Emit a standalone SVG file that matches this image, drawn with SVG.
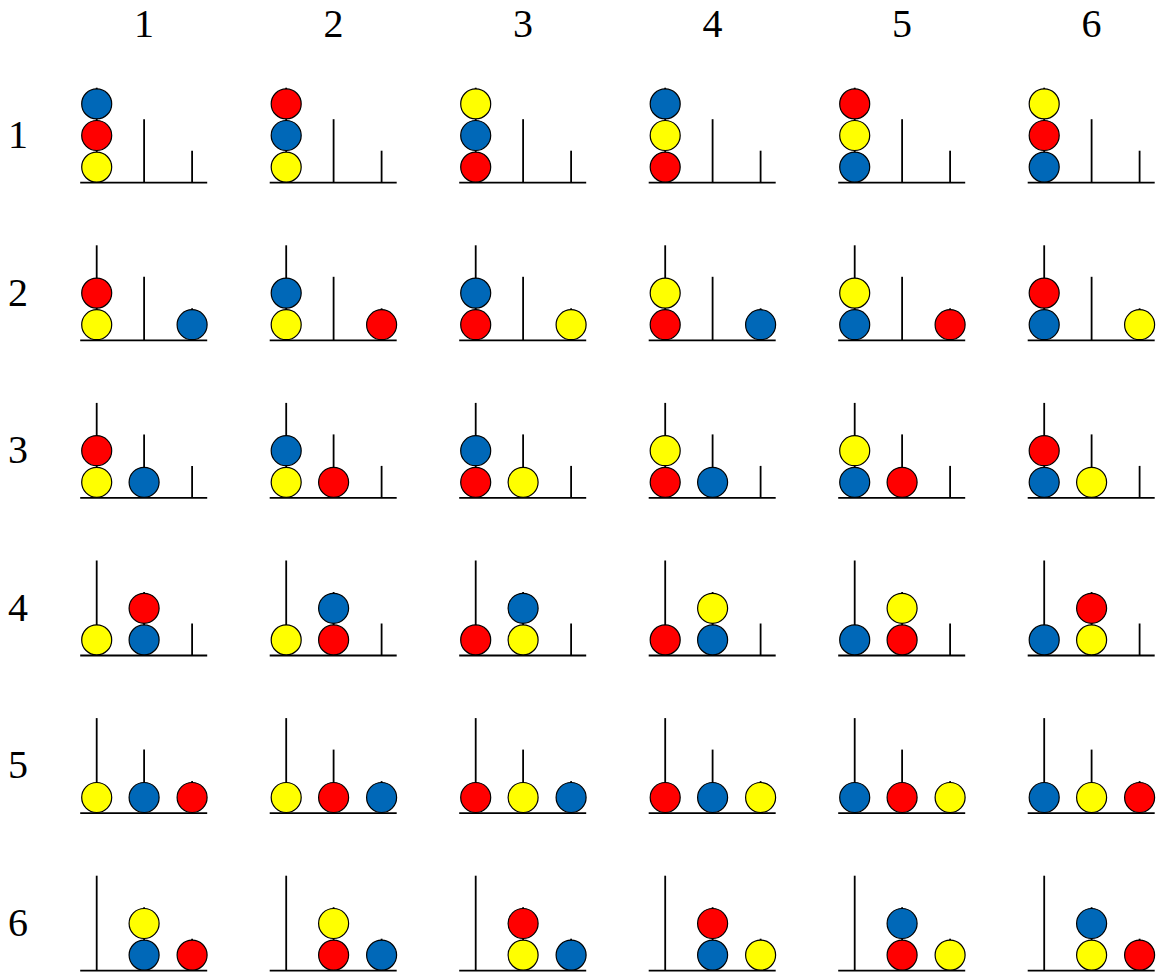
<svg xmlns="http://www.w3.org/2000/svg" xmlns:xlink="http://www.w3.org/1999/xlink" width="1157" height="975" viewBox="0 0 1157 975">
<style>
.lbl{font-size:40px;fill:#000;text-anchor:middle}
.ln{stroke:#000;stroke-width:1.8;fill:none}
.b{stroke:#000;stroke-width:1.2}
.Y{fill:#ffff00}.R{fill:#ff0000}.B{fill:#0068b8}
</style>
<defs>
<g id="board">
<line class="ln" x1="-16.5" y1="0" x2="110.5" y2="0"/>
<line class="ln" x1="0" y1="0" x2="0" y2="-95"/>
<line class="ln" x1="47.4" y1="0" x2="47.4" y2="-63.5"/>
<line class="ln" x1="95.4" y1="0" x2="95.4" y2="-32"/>
</g>
</defs>
<rect width="1157" height="975" fill="#fff"/>
<g id="headers" font-family="'Liberation Serif', 'Times New Roman', serif">
<text class="lbl" x="144" y="37">1</text>
<text class="lbl" x="333.5" y="37">2</text>
<text class="lbl" x="523" y="37">3</text>
<text class="lbl" x="712.5" y="37">4</text>
<text class="lbl" x="902" y="37">5</text>
<text class="lbl" x="1091.5" y="37">6</text>
<text class="lbl" x="18" y="148">1</text>
<text class="lbl" x="18" y="305.5">2</text>
<text class="lbl" x="18" y="463">3</text>
<text class="lbl" x="18" y="620.5">4</text>
<text class="lbl" x="18" y="778">5</text>
<text class="lbl" x="18" y="935.5">6</text>
</g>
<!-- Row 1 -->
<g id="r1c1" transform="translate(96.7,182.7)"><use xlink:href="#board"/><circle class="b Y" cx="0" cy="-15.6" r="15"/><circle class="b R" cx="0" cy="-47.2" r="15"/><circle class="b B" cx="0" cy="-78.8" r="15"/></g>
<g id="r1c2" transform="translate(286.2,182.7)"><use xlink:href="#board"/><circle class="b Y" cx="0" cy="-15.6" r="15"/><circle class="b B" cx="0" cy="-47.2" r="15"/><circle class="b R" cx="0" cy="-78.8" r="15"/></g>
<g id="r1c3" transform="translate(475.7,182.7)"><use xlink:href="#board"/><circle class="b R" cx="0" cy="-15.6" r="15"/><circle class="b B" cx="0" cy="-47.2" r="15"/><circle class="b Y" cx="0" cy="-78.8" r="15"/></g>
<g id="r1c4" transform="translate(665.2,182.7)"><use xlink:href="#board"/><circle class="b R" cx="0" cy="-15.6" r="15"/><circle class="b Y" cx="0" cy="-47.2" r="15"/><circle class="b B" cx="0" cy="-78.8" r="15"/></g>
<g id="r1c5" transform="translate(854.7,182.7)"><use xlink:href="#board"/><circle class="b B" cx="0" cy="-15.6" r="15"/><circle class="b Y" cx="0" cy="-47.2" r="15"/><circle class="b R" cx="0" cy="-78.8" r="15"/></g>
<g id="r1c6" transform="translate(1044.2,182.7)"><use xlink:href="#board"/><circle class="b B" cx="0" cy="-15.6" r="15"/><circle class="b R" cx="0" cy="-47.2" r="15"/><circle class="b Y" cx="0" cy="-78.8" r="15"/></g>
<!-- Row 2 -->
<g id="r2c1" transform="translate(96.7,340.3)"><use xlink:href="#board"/><circle class="b Y" cx="0" cy="-15.6" r="15"/><circle class="b R" cx="0" cy="-47.2" r="15"/><circle class="b B" cx="95.4" cy="-15.6" r="15"/></g>
<g id="r2c2" transform="translate(286.2,340.3)"><use xlink:href="#board"/><circle class="b Y" cx="0" cy="-15.6" r="15"/><circle class="b B" cx="0" cy="-47.2" r="15"/><circle class="b R" cx="95.4" cy="-15.6" r="15"/></g>
<g id="r2c3" transform="translate(475.7,340.3)"><use xlink:href="#board"/><circle class="b R" cx="0" cy="-15.6" r="15"/><circle class="b B" cx="0" cy="-47.2" r="15"/><circle class="b Y" cx="95.4" cy="-15.6" r="15"/></g>
<g id="r2c4" transform="translate(665.2,340.3)"><use xlink:href="#board"/><circle class="b R" cx="0" cy="-15.6" r="15"/><circle class="b Y" cx="0" cy="-47.2" r="15"/><circle class="b B" cx="95.4" cy="-15.6" r="15"/></g>
<g id="r2c5" transform="translate(854.7,340.3)"><use xlink:href="#board"/><circle class="b B" cx="0" cy="-15.6" r="15"/><circle class="b Y" cx="0" cy="-47.2" r="15"/><circle class="b R" cx="95.4" cy="-15.6" r="15"/></g>
<g id="r2c6" transform="translate(1044.2,340.3)"><use xlink:href="#board"/><circle class="b B" cx="0" cy="-15.6" r="15"/><circle class="b R" cx="0" cy="-47.2" r="15"/><circle class="b Y" cx="95.4" cy="-15.6" r="15"/></g>
<!-- Row 3 -->
<g id="r3c1" transform="translate(96.7,497.9)"><use xlink:href="#board"/><circle class="b Y" cx="0" cy="-15.6" r="15"/><circle class="b R" cx="0" cy="-47.2" r="15"/><circle class="b B" cx="47.4" cy="-15.6" r="15"/></g>
<g id="r3c2" transform="translate(286.2,497.9)"><use xlink:href="#board"/><circle class="b Y" cx="0" cy="-15.6" r="15"/><circle class="b B" cx="0" cy="-47.2" r="15"/><circle class="b R" cx="47.4" cy="-15.6" r="15"/></g>
<g id="r3c3" transform="translate(475.7,497.9)"><use xlink:href="#board"/><circle class="b R" cx="0" cy="-15.6" r="15"/><circle class="b B" cx="0" cy="-47.2" r="15"/><circle class="b Y" cx="47.4" cy="-15.6" r="15"/></g>
<g id="r3c4" transform="translate(665.2,497.9)"><use xlink:href="#board"/><circle class="b R" cx="0" cy="-15.6" r="15"/><circle class="b Y" cx="0" cy="-47.2" r="15"/><circle class="b B" cx="47.4" cy="-15.6" r="15"/></g>
<g id="r3c5" transform="translate(854.7,497.9)"><use xlink:href="#board"/><circle class="b B" cx="0" cy="-15.6" r="15"/><circle class="b Y" cx="0" cy="-47.2" r="15"/><circle class="b R" cx="47.4" cy="-15.6" r="15"/></g>
<g id="r3c6" transform="translate(1044.2,497.9)"><use xlink:href="#board"/><circle class="b B" cx="0" cy="-15.6" r="15"/><circle class="b R" cx="0" cy="-47.2" r="15"/><circle class="b Y" cx="47.4" cy="-15.6" r="15"/></g>
<!-- Row 4 -->
<g id="r4c1" transform="translate(96.7,655.5)"><use xlink:href="#board"/><circle class="b Y" cx="0" cy="-15.6" r="15"/><circle class="b B" cx="47.4" cy="-15.6" r="15"/><circle class="b R" cx="47.4" cy="-47.2" r="15"/></g>
<g id="r4c2" transform="translate(286.2,655.5)"><use xlink:href="#board"/><circle class="b Y" cx="0" cy="-15.6" r="15"/><circle class="b R" cx="47.4" cy="-15.6" r="15"/><circle class="b B" cx="47.4" cy="-47.2" r="15"/></g>
<g id="r4c3" transform="translate(475.7,655.5)"><use xlink:href="#board"/><circle class="b R" cx="0" cy="-15.6" r="15"/><circle class="b Y" cx="47.4" cy="-15.6" r="15"/><circle class="b B" cx="47.4" cy="-47.2" r="15"/></g>
<g id="r4c4" transform="translate(665.2,655.5)"><use xlink:href="#board"/><circle class="b R" cx="0" cy="-15.6" r="15"/><circle class="b B" cx="47.4" cy="-15.6" r="15"/><circle class="b Y" cx="47.4" cy="-47.2" r="15"/></g>
<g id="r4c5" transform="translate(854.7,655.5)"><use xlink:href="#board"/><circle class="b B" cx="0" cy="-15.6" r="15"/><circle class="b R" cx="47.4" cy="-15.6" r="15"/><circle class="b Y" cx="47.4" cy="-47.2" r="15"/></g>
<g id="r4c6" transform="translate(1044.2,655.5)"><use xlink:href="#board"/><circle class="b B" cx="0" cy="-15.6" r="15"/><circle class="b Y" cx="47.4" cy="-15.6" r="15"/><circle class="b R" cx="47.4" cy="-47.2" r="15"/></g>
<!-- Row 5 -->
<g id="r5c1" transform="translate(96.7,813.1)"><use xlink:href="#board"/><circle class="b Y" cx="0" cy="-15.6" r="15"/><circle class="b B" cx="47.4" cy="-15.6" r="15"/><circle class="b R" cx="95.4" cy="-15.6" r="15"/></g>
<g id="r5c2" transform="translate(286.2,813.1)"><use xlink:href="#board"/><circle class="b Y" cx="0" cy="-15.6" r="15"/><circle class="b R" cx="47.4" cy="-15.6" r="15"/><circle class="b B" cx="95.4" cy="-15.6" r="15"/></g>
<g id="r5c3" transform="translate(475.7,813.1)"><use xlink:href="#board"/><circle class="b R" cx="0" cy="-15.6" r="15"/><circle class="b Y" cx="47.4" cy="-15.6" r="15"/><circle class="b B" cx="95.4" cy="-15.6" r="15"/></g>
<g id="r5c4" transform="translate(665.2,813.1)"><use xlink:href="#board"/><circle class="b R" cx="0" cy="-15.6" r="15"/><circle class="b B" cx="47.4" cy="-15.6" r="15"/><circle class="b Y" cx="95.4" cy="-15.6" r="15"/></g>
<g id="r5c5" transform="translate(854.7,813.1)"><use xlink:href="#board"/><circle class="b B" cx="0" cy="-15.6" r="15"/><circle class="b R" cx="47.4" cy="-15.6" r="15"/><circle class="b Y" cx="95.4" cy="-15.6" r="15"/></g>
<g id="r5c6" transform="translate(1044.2,813.1)"><use xlink:href="#board"/><circle class="b B" cx="0" cy="-15.6" r="15"/><circle class="b Y" cx="47.4" cy="-15.6" r="15"/><circle class="b R" cx="95.4" cy="-15.6" r="15"/></g>
<!-- Row 6 -->
<g id="r6c1" transform="translate(96.7,970.7)"><use xlink:href="#board"/><circle class="b B" cx="47.4" cy="-15.6" r="15"/><circle class="b Y" cx="47.4" cy="-47.2" r="15"/><circle class="b R" cx="95.4" cy="-15.6" r="15"/></g>
<g id="r6c2" transform="translate(286.2,970.7)"><use xlink:href="#board"/><circle class="b R" cx="47.4" cy="-15.6" r="15"/><circle class="b Y" cx="47.4" cy="-47.2" r="15"/><circle class="b B" cx="95.4" cy="-15.6" r="15"/></g>
<g id="r6c3" transform="translate(475.7,970.7)"><use xlink:href="#board"/><circle class="b Y" cx="47.4" cy="-15.6" r="15"/><circle class="b R" cx="47.4" cy="-47.2" r="15"/><circle class="b B" cx="95.4" cy="-15.6" r="15"/></g>
<g id="r6c4" transform="translate(665.2,970.7)"><use xlink:href="#board"/><circle class="b B" cx="47.4" cy="-15.6" r="15"/><circle class="b R" cx="47.4" cy="-47.2" r="15"/><circle class="b Y" cx="95.4" cy="-15.6" r="15"/></g>
<g id="r6c5" transform="translate(854.7,970.7)"><use xlink:href="#board"/><circle class="b R" cx="47.4" cy="-15.6" r="15"/><circle class="b B" cx="47.4" cy="-47.2" r="15"/><circle class="b Y" cx="95.4" cy="-15.6" r="15"/></g>
<g id="r6c6" transform="translate(1044.2,970.7)"><use xlink:href="#board"/><circle class="b Y" cx="47.4" cy="-15.6" r="15"/><circle class="b B" cx="47.4" cy="-47.2" r="15"/><circle class="b R" cx="95.4" cy="-15.6" r="15"/></g>
</svg>
